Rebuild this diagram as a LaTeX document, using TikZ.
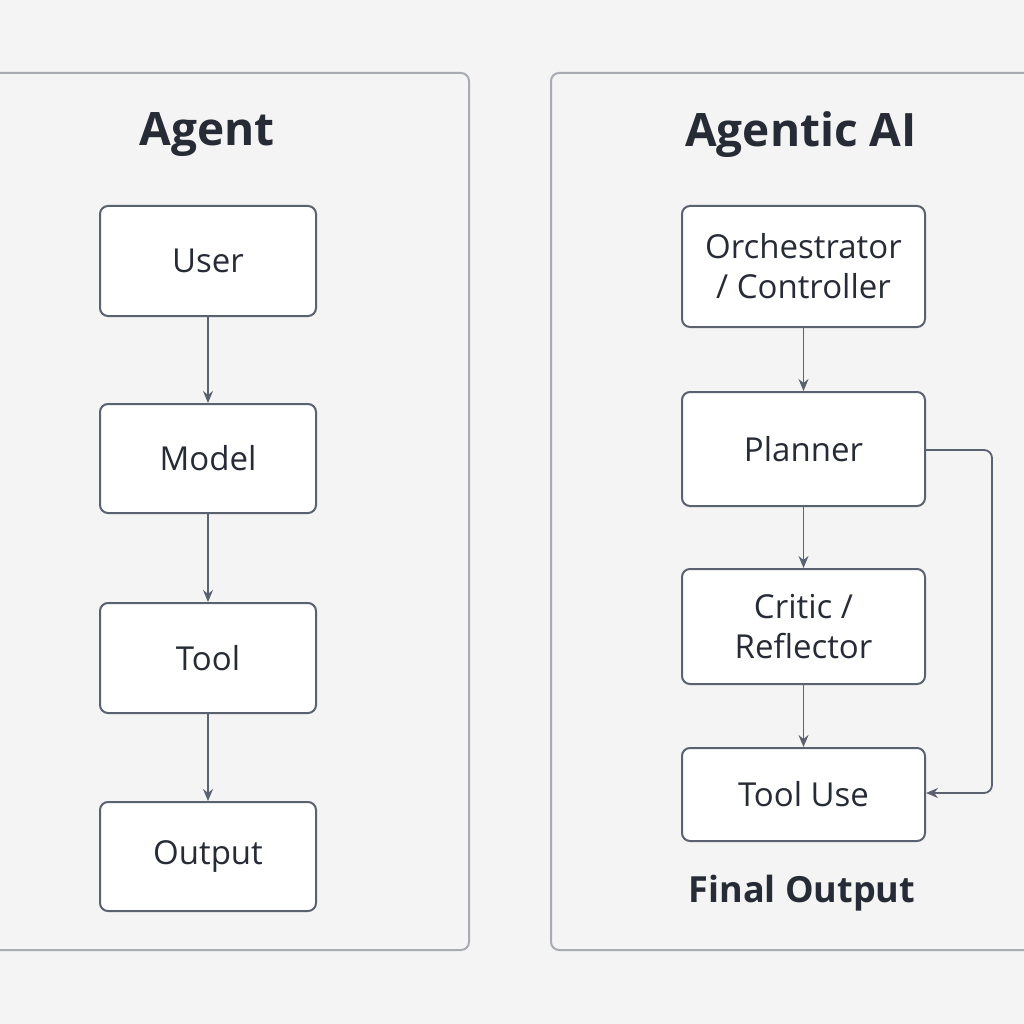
\documentclass[tikz,border=0pt]{standalone}
\usepackage{fontspec}
\setmainfont{Open Sans}
\usetikzlibrary{arrows.meta}
\definecolor{bg}{HTML}{F4F4F4}
\definecolor{txt}{HTML}{262B35}
\definecolor{ln}{HTML}{5A6270}
\definecolor{pan}{HTML}{A8ACB2}
\tikzset{
 panel/.style={draw=pan,line width=2pt,rounded corners=8pt,fill=bg},
 box/.style={draw=ln,line width=2pt,rounded corners=8pt,fill=white,font=\fontsize{33}{40}\selectfont,text=txt,align=center,inner sep=0pt},
 ttl/.style={font=\fontsize{46}{52}\selectfont\bfseries,text=txt},
 arr/.style={draw=ln,line width=1.8pt,-{Stealth[length=12pt,width=10pt]}}
}
\begin{document}
\begin{tikzpicture}[x=1pt,y=-1pt]
\useasboundingbox (0,0) rectangle (1024,1024);
\fill[bg] (0,0) rectangle (1024,1024);
\draw[panel] (-20,73) rectangle (469,950);
\draw[panel] (551,73) rectangle (1044,950);
\node[ttl] (t1) at (207,135) {Agent};
\node[ttl] (t2) at (801,135) {Agentic AI};
\node[box,minimum width=216pt,minimum height=110pt] (u) at (208,261) {User};
\node[box,minimum width=216pt,minimum height=109pt] (m) at (208,458.5) {Model};
\node[box,minimum width=216pt,minimum height=110pt] (t) at (208,658) {Tool};
\node[box,minimum width=216pt,minimum height=109pt] (o) at (208,856.5) {Output};
\draw[arr] (u) -- (m);
\draw[arr] (m) -- (t);
\draw[arr] (t) -- (o);
\node[box,minimum width=243pt,minimum height=121pt] (oc) at (803.5,266.5) {Orchestrator\\/ Controller};
\node[box,minimum width=243pt,minimum height=114pt] (pl) at (803.5,449) {Planner};
\node[box,minimum width=243pt,minimum height=115pt] (cr) at (803.5,626.5) {Critic /\\Reflector};
\node[box,minimum width=243pt,minimum height=93pt] (tu) at (803.5,794.5) {Tool Use};
\node[font=\fontsize{36}{42}\selectfont\bfseries,text=txt] (fo) at (802,893) {Final Output};
\draw[arr] (oc) -- (pl);
\draw[arr] (pl) -- (cr);
\draw[arr] (cr) -- (tu);
\draw[arr,rounded corners=8pt] (pl.east |- 0,450) -- (992,450) -- (992,793) -- (tu.east |- 0,793);
\end{tikzpicture}
\end{document}
